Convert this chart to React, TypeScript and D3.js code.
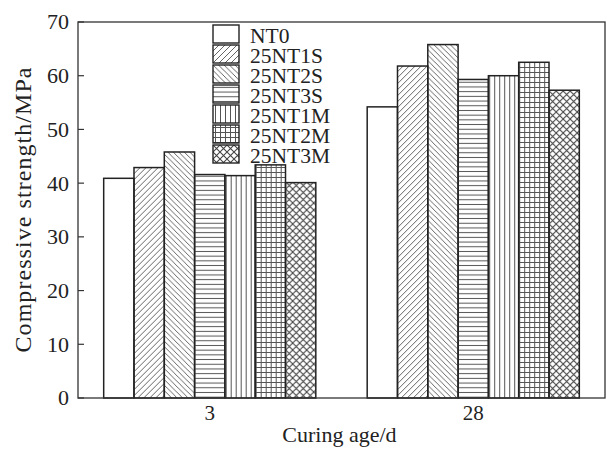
import React from 'react';
import * as d3 from 'd3';

const categories = ['3', '28'];
const seriesNames = ['NT0', '25NT1S', '25NT2S', '25NT3S', '25NT1M', '25NT2M', '25NT3M'];
const nt0 = [40.9, 54.2];
const nt1s = [42.9, 61.8];
const nt2s = [45.8, 65.8];
const nt3s = [41.6, 59.3];
const nt1m = [41.4, 60.0];
const nt2m = [43.4, 62.5];
const nt3m = [40.1, 57.3];
const seriesValues = [nt0, nt1s, nt2s, nt3s, nt1m, nt2m, nt3m];
const yTicks = [0, 10, 20, 30, 40, 50, 60, 70];

const patternIds = ['none', 'p-fwd', 'p-back', 'p-horiz', 'p-vert', 'p-grid', 'p-cross'];

const W = 607, H = 451;
const margin = { left: 78, right: 2, top: 22, bottom: 53 };
const font = '"Liberation Serif", "Times New Roman", serif';

export default function App() {
  const x0 = d3.scaleBand<string>()
    .domain(categories)
    .range([margin.left, W - margin.right])
    .paddingInner(0.195)
    .paddingOuter(0.0975);
  const x1 = d3.scaleBand<string>()
    .domain(seriesNames)
    .range([0, x0.bandwidth()]);
  const y = d3.scaleLinear().domain([0, 70]).range([H - margin.bottom, margin.top]);

  const hatch = '#555';
  const left = margin.left, right = W - margin.right;
  const top = y(70), bottom = y(0);

  return (
    <svg width={W} height={H} style={{ position: 'absolute', left: 0, top: 0, background: '#fff' }}>
      <defs>
        <pattern id="p-fwd" width={6} height={6} patternUnits="userSpaceOnUse">
          <path d="M-1,1 l2,-2 M0,6 l6,-6 M5,7 l2,-2" stroke={hatch} strokeWidth={0.9} />
        </pattern>
        <pattern id="p-back" width={5.5} height={5.5} patternUnits="userSpaceOnUse">
          <path d="M-1,4.5 l2,2 M0,0 l5.5,5.5 M4.5,-1 l2,2" stroke={hatch} strokeWidth={0.9} />
        </pattern>
        <pattern id="p-horiz" width={5} height={4.7} patternUnits="userSpaceOnUse">
          <path d="M0,2.35 H5" stroke={hatch} strokeWidth={1} />
        </pattern>
        <pattern id="p-vert" width={5} height={5} patternUnits="userSpaceOnUse">
          <path d="M2.5,0 V5" stroke={hatch} strokeWidth={1} />
        </pattern>
        <pattern id="p-grid" width={5} height={5} patternUnits="userSpaceOnUse">
          <path d="M2.5,0 V5 M0,2.5 H5" stroke={hatch} strokeWidth={1} />
        </pattern>
        <pattern id="p-cross" width={7} height={7} patternUnits="userSpaceOnUse">
          <path d="M0,0 L7,7 M7,0 L0,7" stroke="#444" strokeWidth={1.1} />
        </pattern>
      </defs>

      {/* bars */}
      {categories.map((c, ci) => (
        <g key={c} transform={`translate(${x0(c)},0)`}>
          {seriesNames.map((s, si) => {
            const v = seriesValues[si][ci];
            return (
              <rect key={s} x={x1(s)} y={y(v)} width={x1.bandwidth()} height={bottom - y(v)}
                fill={si === 0 ? '#fff' : `url(#${patternIds[si]})`} stroke="#222" strokeWidth={1.5} />
            );
          })}
        </g>
      ))}

      {/* frame */}
      <rect x={left} y={top} width={right - left} height={bottom - top} fill="none" stroke="#333" strokeWidth={1.3} />

      {/* y axis ticks */}
      {yTicks.map(t => (
        <g key={t}>
          <line x1={left} x2={left + 6} y1={y(t)} y2={y(t)} stroke="#333" strokeWidth={1.2} />
          <text x={left - 9} y={y(t)} dy="0.34em" textAnchor="end" fontFamily={font} fontSize={22} fill="#222">{t}</text>
        </g>
      ))}

      {/* x tick labels */}
      {categories.map(c => (
        <text key={c} x={(x0(c) ?? 0) + x0.bandwidth() / 2} y={bottom + 22} textAnchor="middle"
          fontFamily={font} fontSize={21} fill="#222">{c}</text>
      ))}

      {/* axis titles */}
      <text x={(left + right) / 2 - 2} y={H - 9} textAnchor="middle" fontFamily={font} fontSize={22} fill="#222">Curing age/d</text>
      <text transform={`translate(31,${(top + bottom) / 2}) rotate(-90)`} textAnchor="middle"
        fontFamily={font} fontSize={24} fill="#222" textLength={285} lengthAdjust="spacing">Compressive strength/MPa</text>

      {/* legend */}
      {seriesNames.map((s, i) => (
        <g key={s} transform={`translate(213,${25 + i * 20})`}>
          <rect width={26} height={18} fill={i === 0 ? '#fff' : `url(#${patternIds[i]})`} stroke="#222" strokeWidth={1.4} />
          <text x={37} y={17.5} fontFamily={font} fontSize={21.5} fill="#222">{s}</text>
        </g>
      ))}
    </svg>
  );
}
